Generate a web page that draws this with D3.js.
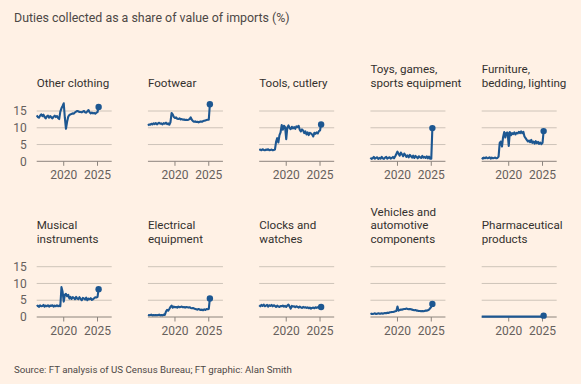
<!DOCTYPE html>
<html>
<head>
<meta charset="utf-8">
<script src="https://cdn.jsdelivr.net/npm/d3@7"></script>
<style>
  html, body { margin: 0; padding: 0; background: #fff1e5; }
  svg { display: block; font-family: Roboto, "Liberation Sans", sans-serif; }
</style>
</head>
<body>
<svg width="581" height="384"></svg>
<script>
// bimonthly, Jan 2016 .. Mar 2025
const dates = d3.timeMonth.every(2).range(new Date(2016, 0, 1), new Date(2025, 3, 2));

const titles = [
  ["Other clothing"],
  ["Footwear"],
  ["Tools, cutlery"],
  ["Toys, games,", "sports equipment"],
  ["Furniture,", "bedding, lighting"],
  ["Musical", "instruments"],
  ["Electrical", "equipment"],
  ["Clocks and", "watches"],
  ["Vehicles and", "automotive", "components"],
  ["Pharmaceutical", "products"]
];

const otherClothing = [
  13.7, 13.2, 13.0, 13.6, 14.0, 13.5,
  13.9, 13.2, 12.8, 13.4, 13.6, 13.0,
  13.5, 13.1, 12.8, 13.3, 13.6, 13.2,
  13.5, 12.9, 12.6, 14.8, 15.8, 16.5,
  17.3, 13.0, 9.7, 11.8, 13.3, 13.8,
  14.0, 14.1, 14.3, 14.2, 14.6, 14.8,
  15.0, 14.9, 14.7, 14.7, 14.6, 14.8,
  15.0, 14.6, 14.5, 14.9, 15.3, 14.6,
  14.3, 14.5, 14.3, 14.4, 14.2, 14.5,
  14.7, 16.2
];
const footwear = [
  10.7, 11.0, 10.9, 11.2, 11.0, 11.3,
  11.1, 11.4, 11.0, 11.3, 11.5, 11.2,
  11.3, 11.0, 11.4, 11.2, 11.5, 11.1,
  11.3, 10.9, 11.6, 14.4, 14.0, 13.2,
  12.9, 13.1, 12.7, 12.6, 12.8, 12.5,
  12.6, 12.4, 12.5, 12.3, 12.4, 12.3,
  12.4, 12.6, 13.1, 12.4, 12.0, 11.8,
  11.9, 11.7, 11.8, 11.6, 11.8, 11.9,
  11.8, 12.0, 12.1, 12.2, 12.3, 12.4,
  12.4, 17.0
];
const tools = [
  3.4, 3.5, 3.3, 3.6, 3.4, 3.3,
  3.5, 3.4, 3.6, 3.3, 3.4, 3.5,
  3.3, 3.4, 3.5, 5.8, 6.9, 5.6,
  7.8, 8.6, 10.8, 9.4, 10.6, 10.2,
  6.6, 10.1, 10.7, 9.9, 9.6, 10.3,
  9.8, 10.2, 9.7, 10.4, 10.2, 10.6,
  9.4, 8.9, 9.5, 9.2, 8.4, 8.9,
  8.0, 8.6, 7.8, 8.5, 8.3, 8.0,
  7.4, 8.5, 8.2, 8.6, 8.3, 9.0,
  9.2, 11.0
];
const toys = [
  1.1, 0.7, 0.9, 1.3, 0.8, 1.0,
  1.2, 0.7, 1.0, 0.8, 1.3, 0.9,
  0.7, 1.1, 1.3, 0.8, 1.0, 1.2,
  0.8, 1.0, 1.3, 0.9, 1.5, 2.2,
  2.9, 2.2, 1.7, 2.6, 2.1, 1.5,
  2.3, 1.9, 1.3, 1.8, 1.2, 1.9,
  1.5, 1.1, 1.7, 1.0, 1.6, 1.3,
  0.9, 1.5, 1.2, 1.0, 1.6, 1.1,
  1.3, 1.0, 1.5, 0.9, 1.4, 0.8,
  0.8, 9.9
];
const furniture = [
  1.0, 0.8, 1.1, 0.9, 1.2, 0.9,
  1.0, 1.2, 0.8, 1.1, 0.9, 1.0,
  1.1, 0.9, 1.0, 1.4, 5.5, 5.9,
  4.4, 7.2, 8.7, 7.1, 8.5, 8.6,
  4.6, 8.7, 7.8, 8.4, 8.1, 8.6,
  8.0, 8.5, 8.3, 8.8, 8.4, 8.9,
  8.4, 8.8, 7.4, 6.9, 6.4, 5.9,
  6.2, 5.7, 6.4, 5.5, 5.9, 5.3,
  6.0, 5.4, 5.8, 5.2, 5.6, 5.1,
  5.5, 9.0
];
const musical = [
  3.2, 3.4, 3.0, 3.5, 3.2, 3.3,
  3.6, 3.1, 3.4, 3.2, 3.5, 3.1,
  3.4, 3.3, 3.5, 3.1, 3.4, 3.2,
  3.5, 3.2, 3.4, 3.2, 8.9, 7.5,
  4.6, 6.6, 6.9, 6.2, 6.6, 5.5,
  6.0, 5.4, 5.9, 5.7, 5.3, 6.0,
  5.5, 5.3, 5.9, 5.4, 5.0, 5.7,
  5.5, 5.2, 5.8, 5.0, 5.5, 5.3,
  5.6, 5.1, 5.3, 5.6, 5.9, 5.8,
  6.0, 8.3
];
const electrical = [
  0.6, 0.5, 0.6, 0.7, 0.5, 0.6,
  0.5, 0.6, 0.5, 0.6, 0.7, 0.5,
  0.6, 0.5, 0.7, 0.6, 1.6, 2.1,
  1.9, 2.4, 3.0, 3.4, 2.8, 3.1,
  2.9, 3.0, 2.8, 3.1, 2.9, 3.0,
  3.1, 2.9, 3.0, 2.8, 3.0, 2.9,
  2.8, 2.9, 2.7, 2.6, 2.7, 2.5,
  2.4, 2.3, 2.2, 2.4, 2.2, 2.1,
  2.2, 2.0, 2.3, 2.1, 2.4, 2.3,
  2.4, 5.5
];
const clocks = [
  3.5, 3.2, 3.6, 3.3, 3.7, 3.2,
  3.4, 3.6, 3.1, 3.5, 3.3, 3.6,
  3.2, 3.5, 3.3, 3.0, 3.4, 3.1,
  3.0, 3.3, 3.2, 3.4, 3.1, 3.3,
  3.0, 3.4, 3.7, 3.1, 2.5, 3.3,
  3.1, 3.2, 2.9, 3.2, 3.0, 2.8,
  3.1, 2.9, 2.7, 3.0, 2.8, 2.9,
  2.7, 2.9, 2.6, 2.8, 2.5, 2.7,
  2.8, 2.6, 2.9, 2.7, 2.9, 2.8,
  2.9, 3.0
];
const vehicles = [
  0.9, 1.0, 0.9, 1.0, 1.1, 0.9,
  1.0, 1.1, 1.0, 1.0, 1.1, 1.0,
  1.1, 1.2, 1.1, 1.3, 1.2, 1.4,
  1.4, 1.5, 1.5, 1.6, 1.7, 1.8,
  3.1, 1.9, 2.1, 2.2, 2.2, 2.3,
  2.4, 2.4, 2.5, 2.4, 2.3, 2.4,
  2.3, 2.2, 2.1, 2.0, 2.1, 1.9,
  1.9, 1.8, 1.8, 1.7, 1.8, 1.7,
  1.8, 1.9, 1.9, 2.0, 2.2, 2.6,
  3.0, 3.9
];
const pharma = [
  0.1, 0.1, 0.1, 0.1, 0.1, 0.1,
  0.1, 0.1, 0.1, 0.1, 0.1, 0.1,
  0.1, 0.1, 0.1, 0.1, 0.1, 0.1,
  0.1, 0.1, 0.1, 0.1, 0.1, 0.1,
  0.1, 0.1, 0.1, 0.1, 0.1, 0.1,
  0.1, 0.1, 0.1, 0.1, 0.1, 0.1,
  0.1, 0.1, 0.1, 0.1, 0.1, 0.1,
  0.1, 0.1, 0.1, 0.1, 0.1, 0.1,
  0.1, 0.1, 0.1, 0.1, 0.1, 0.1,
  0.1, 0.4
];

const series = [otherClothing, footwear, tools, toys, furniture,
  musical, electrical, clocks, vehicles, pharma];
const yTicks = [0, 5, 10, 15];
const xTicks = [new Date(2020, 0, 1), new Date(2025, 0, 1)];

const panelW = 75;
const panelH = 50.3;
const colStep = 111.25;
const left0 = 36.7;
const baselines = [161.3, 317];
const titleBase = [86.7, 242.7];

const svg = d3.select("svg");
svg.append("rect").attr("width", 581).attr("height", 384).attr("fill", "#fff1e5");

svg.append("text")
  .attr("x", 14).attr("y", 21.5)
  .attr("fill", "#4d4845")
  .attr("font-size", "12.4px")
  .text("Duties collected as a share of value of imports (%)");

svg.append("text")
  .attr("x", 14).attr("y", 373)
  .attr("fill", "#4d4845")
  .attr("font-size", "9.7px")
  .text("Source: FT analysis of US Census Bureau; FT graphic: Alan Smith");

const x = d3.scaleTime()
  .domain([new Date(2016, 0, 1), new Date(2027, 1, 6)])
  .range([0, panelW]);
const y = d3.scaleLinear().domain([0, 15]).range([panelH, 0]);

const line = d3.line()
  .x((d, i) => x(dates[i]))
  .y((d) => y(d));

series.forEach((values, k) => {
  const row = Math.floor(k / 5);
  const col = k % 5;
  const top = baselines[row] - panelH;
  const g = svg.append("g")
    .attr("transform", `translate(${left0 + col * colStep},${top})`);

  const lines = titles[k];
  g.append("text")
    .attr("fill", "#33302e")
    .attr("font-size", "11.6px")
    .selectAll("tspan")
    .data(lines)
    .enter()
    .append("tspan")
    .attr("x", 0)
    .attr("y", (d, i) => titleBase[row] - top - (lines.length - 1 - i) * 13.3)
    .text((d) => d);

  g.selectAll("line.grid")
    .data(yTicks.slice(1))
    .enter()
    .append("line")
    .attr("class", "grid")
    .attr("x1", 0).attr("x2", panelW)
    .attr("y1", (d) => y(d)).attr("y2", (d) => y(d))
    .attr("stroke", "#cec4b9")
    .attr("stroke-width", 1);

  if (col === 0) {
    g.selectAll("text.ytick")
      .data(yTicks)
      .enter()
      .append("text")
      .attr("class", "ytick")
      .attr("x", -10)
      .attr("y", (d) => y(d))
      .attr("dy", "0.35em")
      .attr("text-anchor", "end")
      .attr("fill", "#66605c")
      .attr("font-size", "12px")
      .text((d) => d);
  }

  g.append("line")
    .attr("x1", 0).attr("x2", panelW)
    .attr("y1", y(0)).attr("y2", y(0))
    .attr("stroke", "#8c847d")
    .attr("stroke-width", 1);

  g.selectAll("line.xtick")
    .data(xTicks)
    .enter()
    .append("line")
    .attr("class", "xtick")
    .attr("x1", (d) => x(d)).attr("x2", (d) => x(d))
    .attr("y1", y(0)).attr("y2", y(0) + 4.5)
    .attr("stroke", "#8c847d");

  g.selectAll("text.xtick")
    .data(xTicks)
    .enter()
    .append("text")
    .attr("class", "xtick")
    .attr("x", (d) => x(d))
    .attr("y", y(0) + 18)
    .attr("text-anchor", "middle")
    .attr("fill", "#66605c")
    .attr("font-size", "12px")
    .text((d) => d.getFullYear());

  g.append("path")
    .datum(values)
    .attr("fill", "none")
    .attr("stroke", "#1d5791")
    .attr("stroke-width", 2.1)
    .attr("stroke-linejoin", "round")
    .attr("d", line);

  g.append("circle")
    .attr("cx", x(dates[dates.length - 1]))
    .attr("cy", y(values[values.length - 1]))
    .attr("r", 3.2)
    .attr("fill", "#1d5791");
});
</script>
</body>
</html>
